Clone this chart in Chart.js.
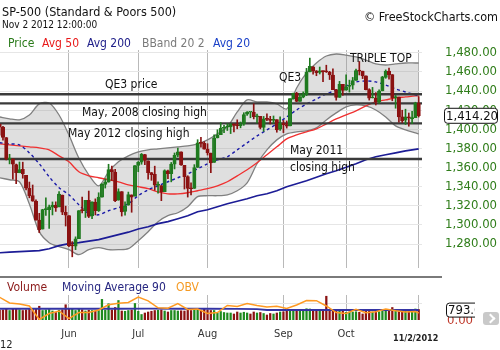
<!DOCTYPE html>
<html>
<head>
<meta charset="utf-8">
<script src="https://cdn.jsdelivr.net/npm/chart.js@4.4.1/dist/chart.umd.min.js"></script>
<style>
body{margin:0;width:500px;height:350px;background:#fff;overflow:hidden;position:relative;
  font-family:"DejaVu Sans Condensed","DejaVu Sans",sans-serif;font-stretch:condensed;color:#111;}
.t{position:absolute;white-space:nowrap;line-height:1;}
canvas{position:absolute;left:0;}
</style>
</head>
<body>
<canvas id="grafica" width="500" height="280" style="top:0"></canvas>
<canvas id="volumen" width="500" height="70" style="top:280px"></canvas>

<div class="t" style="left:2px;top:6px;font-size:12.5px;">SP-500 (Standard &amp; Poors 500)</div>
<div class="t" style="left:2px;top:20px;font-size:10px;">Nov 2 2012 12:00:00</div>
<div class="t" style="right:2px;top:11px;font-size:12.5px;">© FreeStockCharts.com</div>

<div class="t" style="left:8px;top:37px;font-size:12px;color:#2a7a1a;">Price</div>
<div class="t" style="left:42px;top:37px;font-size:12px;color:#e81818;">Avg 50</div>
<div class="t" style="left:87px;top:37px;font-size:12px;color:#20208a;">Avg 200</div>
<div class="t" style="left:142px;top:37px;font-size:12px;color:#7a7a7a;">BBand 20 2</div>
<div class="t" style="left:213px;top:37px;font-size:12px;color:#1a40c8;">Avg 20</div>

<div class="t" style="left:105px;top:78px;font-size:12px;">QE3 price</div>
<div class="t" style="left:82px;top:106px;font-size:12px;">May, 2008 closing high</div>
<div class="t" style="left:68px;top:127px;font-size:12px;">May 2012 closing high</div>
<div class="t" style="left:279px;top:71px;font-size:12px;">QE3</div>
<div class="t" style="left:350px;top:52px;font-size:12px;">TRIPLE TOP</div>
<div class="t" style="left:290px;top:144px;font-size:12px;">May 2011</div>
<div class="t" style="left:290px;top:161px;font-size:12px;">closing high</div>

<div style="position:absolute;left:0;top:276px;width:442px;height:2px;background:#7a7a7a;"></div>
<div class="t" style="left:7px;top:281px;font-size:12px;color:#8b1a1a;">Volume</div>
<div class="t" style="left:62px;top:281px;font-size:12px;color:#262680;">Moving Average 90</div>
<div class="t" style="left:176px;top:281px;font-size:12px;color:#f59a23;">OBV</div>
<div class="t" style="left:393px;top:334px;font-size:9px;font-weight:bold;color:#222;">11/2/2012</div>
<div class="t" style="left:0px;top:339px;font-size:11px;color:#222;">12</div>
<div style="position:absolute;left:483px;top:312px;width:16px;height:13px;background:#c9c9c9;border-radius:3px;">
  <div style="position:absolute;left:4px;top:3px;width:5px;height:5px;border-top:2.5px solid #fff;border-right:2.5px solid #fff;transform:rotate(45deg);"></div>
</div>

<script>
// fechas de sesion (mayo 1 - nov 2 2012)
var fechas = ['5/1','5/2','5/3','5/4','5/7','5/8','5/9','5/10','5/11','5/14','5/15','5/16','5/17','5/18','5/21','5/22','5/23','5/24','5/25','5/29','5/30','5/31',
  '6/1','6/4','6/5','6/6','6/7','6/8','6/11','6/12','6/13','6/14','6/15','6/18','6/19','6/20','6/21','6/22','6/25','6/26','6/27','6/28','6/29',
  '7/2','7/3','7/5','7/6','7/9','7/10','7/11','7/12','7/13','7/16','7/17','7/18','7/19','7/20','7/23','7/24','7/25','7/26','7/27','7/30','7/31',
  '8/1','8/2','8/3','8/6','8/7','8/8','8/9','8/10','8/13','8/14','8/15','8/16','8/17','8/20','8/21','8/22','8/23','8/24','8/27','8/28','8/29','8/30','8/31',
  '9/4','9/5','9/6','9/7','9/10','9/11','9/12','9/13','9/14','9/17','9/18','9/19','9/20','9/21','9/24','9/25','9/26','9/27','9/28',
  '10/1','10/2','10/3','10/4','10/5','10/8','10/9','10/10','10/11','10/12','10/15','10/16','10/17','10/18','10/19','10/22','10/23','10/24','10/25','10/26','10/31',
  '11/1','11/2'];

var apertura = [1397.9,1405.5,1402.3,1391.5,1368.8,1369.2,1363.2,1354.6,1358.1,1351.9,1338.4,1330.8,1324.8,1305.1,1295.7,1316.1,1316.0,1318.7,1320.8,1318.9,1331.3,1313.1,
  1309.9,1278.3,1277.8,1285.6,1316.1,1315.0,1325.7,1309.4,1324.0,1314.9,1329.2,1342.4,1344.8,1358.0,1355.4,1325.9,1334.9,1314.1,1320.7,1331.5,1330.1,
  1362.3,1365.8,1373.7,1367.1,1354.7,1353.0,1341.4,1341.3,1334.8,1356.5,1353.7,1363.6,1373.0,1376.5,1362.3,1350.5,1338.4,1338.2,1360.1,1385.9,1385.3,
  1379.3,1375.1,1365.5,1391.0,1394.5,1401.2,1402.3,1402.6,1405.9,1404.4,1403.9,1405.6,1415.8,1417.9,1418.1,1413.1,1413.5,1402.0,1411.1,1410.4,1409.3,1410.1,1400.1,
  1406.5,1404.9,1403.7,1432.1,1437.9,1429.1,1433.6,1436.6,1460.1,1465.4,1461.2,1459.5,1461.1,1460.3,1459.8,1456.9,1441.6,1433.4,1447.1,
  1440.9,1445.0,1446.1,1451.1,1461.4,1460.9,1455.9,1441.5,1432.8,1432.8,1428.8,1440.3,1454.2,1460.9,1457.3,1433.2,1433.7,1413.2,1409.7,1413.0,1411.0,
  1412.2,1427.6];
var maximo = [1415.3,1405.5,1403.1,1391.5,1373.9,1369.2,1363.7,1365.9,1365.7,1351.9,1344.9,1341.8,1326.4,1312.2,1316.4,1328.5,1320.7,1324.1,1324.2,1334.9,1331.3,1319.7,
  1309.9,1282.6,1287.6,1315.1,1329.1,1325.8,1335.5,1324.3,1327.3,1333.7,1343.3,1348.2,1363.5,1361.6,1358.3,1337.8,1334.9,1324.2,1334.4,1331.5,1362.2,
  1366.4,1374.8,1373.9,1367.1,1354.9,1361.5,1345.0,1341.3,1357.7,1357.3,1365.4,1375.3,1380.4,1376.5,1362.3,1351.5,1344.0,1363.1,1389.2,1391.7,1387.2,
  1385.0,1375.1,1394.2,1399.6,1407.1,1404.1,1405.9,1406.0,1405.9,1410.0,1407.7,1417.4,1418.7,1418.1,1426.7,1416.1,1413.5,1413.5,1416.2,1413.6,1414.0,1410.1,1413.1,
  1409.3,1408.8,1432.1,1437.9,1438.7,1437.8,1439.2,1463.8,1474.5,1465.6,1461.5,1465.2,1461.2,1467.1,1460.7,1463.2,1441.6,1450.2,1447.1,
  1457.1,1451.5,1454.3,1463.1,1471.0,1460.9,1455.9,1442.5,1443.9,1438.4,1441.3,1455.5,1462.2,1464.0,1457.3,1435.5,1433.7,1420.0,1421.1,1417.1,1418.8,
  1428.4,1434.3];
var minimo = [1395.7,1393.9,1388.7,1368.0,1363.9,1347.8,1343.1,1354.6,1348.9,1336.6,1328.4,1324.8,1304.9,1292.0,1295.7,1310.0,1296.5,1310.5,1314.2,1318.9,1310.8,1298.9,
  1277.3,1266.7,1274.2,1285.6,1312.7,1307.8,1307.7,1306.6,1310.5,1314.1,1329.2,1338.6,1344.8,1346.5,1324.4,1325.9,1309.3,1310.3,1320.7,1313.3,1330.1,
  1355.7,1363.5,1363.0,1348.0,1346.7,1336.3,1333.2,1325.4,1334.8,1348.5,1345.1,1358.6,1371.2,1362.2,1337.6,1329.2,1331.5,1338.2,1360.1,1381.4,1379.2,
  1373.1,1354.7,1365.5,1391.0,1394.5,1396.6,1398.8,1395.6,1397.3,1400.6,1401.6,1404.2,1414.7,1412.1,1410.9,1406.8,1400.5,1398.0,1409.1,1405.6,1406.6,1397.0,1399.0,
  1396.6,1401.3,1403.7,1431.5,1429.0,1429.1,1433.0,1435.3,1460.1,1457.6,1456.1,1457.9,1450.0,1459.5,1452.1,1441.6,1430.5,1433.4,1435.6,
  1440.9,1439.0,1442.0,1451.1,1456.9,1453.1,1441.2,1430.6,1432.8,1425.5,1427.2,1440.3,1453.4,1452.6,1429.9,1422.1,1407.6,1407.1,1405.1,1403.3,1406.0,
  1412.2,1412.9];
var cierre = [1405.8,1402.3,1391.6,1369.1,1369.6,1363.7,1354.6,1358.0,1353.4,1338.4,1330.7,1324.8,1304.9,1295.2,1316.0,1316.6,1318.9,1320.7,1317.8,1332.4,1313.3,1310.3,
  1278.0,1278.2,1285.5,1315.1,1315.0,1325.7,1308.9,1324.2,1314.9,1329.1,1342.8,1344.8,1358.0,1355.7,1325.5,1335.0,1313.7,1320.0,1331.9,1329.0,1362.2,
  1365.5,1374.0,1367.6,1354.7,1352.5,1341.5,1341.5,1334.8,1356.8,1353.6,1363.7,1372.8,1376.5,1362.7,1350.5,1338.3,1337.9,1360.0,1386.0,1385.3,1379.3,
  1375.3,1365.0,1391.0,1394.2,1401.4,1402.2,1402.8,1405.9,1404.1,1403.9,1405.5,1415.5,1418.2,1418.1,1413.2,1413.5,1402.1,1411.1,1410.4,1409.3,1410.5,1399.5,1406.6,
  1404.9,1403.4,1432.1,1437.9,1429.1,1433.6,1436.6,1460.0,1465.8,1461.2,1459.3,1461.1,1460.3,1460.2,1456.9,1441.6,1433.3,1447.2,1440.7,
  1444.5,1445.8,1451.0,1461.4,1460.9,1455.9,1441.5,1432.6,1432.8,1428.6,1440.1,1454.9,1460.9,1457.3,1433.2,1433.8,1413.1,1408.8,1413.0,1411.9,1412.2,
  1427.6,1414.2];
// volumen (millones)
var volumen = [820,780,800,880,760,860,880,820,760,800,840,860,900,1100,760,800,840,720,600,780,820,1220,
  900,860,760,880,820,720,780,760,720,760,1650,780,1300,800,1000,1560,720,700,760,800,1320,
  700,440,560,640,700,760,780,800,720,640,760,760,720,740,720,780,760,820,900,700,860,
  800,760,760,560,680,600,560,560,480,640,560,620,560,480,640,560,600,520,400,520,480,560,640,
  660,720,840,780,700,720,720,900,880,720,760,820,800,1900,720,780,760,720,820,
  620,640,640,660,620,480,720,700,640,720,660,760,740,720,1000,720,840,760,740,700,820,
  880,840];

// indicadores, cada 3 sesiones
var muestras = [1,4,7,10,13,16,19,22,25,28,31,34,37,40,43,46,49,52,55,58,61,64,67,70,73,76,79,82,85,88,91,94,97,100,103,106,109,112,115,118,121,124,127,128];
var bandaSup = [1413,1411,1410,1415,1426.6,1427.6,1415,1394,1370,1352.5,1341,1355.5,1366,1372.3,1376.5,1378.6,1379.6,1380.7,1381.7,1382.8,1384.8,1389,1395.3,1402.6,1418.2,1430.8,1428.7,1428.7,1426.6,1421.4,1443.3,1459,1469.4,1476.7,1478.8,1477.7,1475.7,1472.5,1468.4,1467.3,1468.4,1469.4,1469.4,1469.4];
var bandaInf = [1349.4,1347.3,1345.2,1322,1293,1281.5,1277.3,1274.2,1269,1274.2,1276.3,1274.2,1274.2,1275.2,1283.6,1293,1303.4,1309.7,1312.8,1319.1,1329.6,1330.6,1330.6,1331.6,1335.8,1344.1,1364,1378.6,1389,1395.3,1397.4,1398.4,1401.5,1409.9,1417.2,1423.5,1425.6,1424.5,1420.3,1413,1403.6,1399.5,1396.3,1395.3];
var prom20 = [1386,1384.8,1383.8,1375.4,1364,1350.4,1339,1331.6,1321.2,1311.8,1310.7,1314.9,1318,1322.2,1330.6,1336.8,1341,1345.2,1349.4,1353.5,1358.7,1364,1368.1,1371.3,1378.6,1385.9,1393.2,1399.5,1405.7,1413,1420.3,1426.6,1431.8,1437,1441.2,1445.4,1449.6,1450.6,1449.6,1446.4,1442.3,1439.1,1436,1435];
var prom50 = [1384.8,1383.8,1382.8,1381.7,1380.7,1378.6,1372.3,1366,1355.6,1351.4,1349.4,1347.3,1345.2,1342,1340,1337.9,1334.7,1332.6,1332.6,1333.7,1335.8,1337.9,1341,1345.2,1351.4,1357.7,1365,1373.4,1381.7,1390.1,1394.2,1397.4,1400.5,1405.7,1410.9,1415.1,1419.3,1424.5,1428.7,1430.8,1432.9,1433.9,1435,1435];
var prom200 = [1271,1271.6,1272.1,1272.6,1273.2,1275.2,1278.4,1280.5,1281.5,1283.1,1284.7,1287.3,1289.9,1292.5,1295.7,1298.2,1301.4,1303.5,1306.6,1309.7,1313.9,1316,1319.1,1322.2,1324.8,1327.4,1330.6,1332.6,1335.8,1340,1343.1,1346.2,1349.9,1353.5,1356.7,1360.3,1364,1368.1,1371.3,1373.4,1375.4,1377.5,1379.1,1379.6];
var obv = [6810,5100,4800,4200,150,1950,2700,390,2250,2250,3000,4560,5040,5250,6900,5760,3660,3540,4950,3150,3300,1950,2250,4350,4050,4950,4350,3900,4110,3450,4500,5850,5790,4200,2220,1950,3240,2160,2460,3300,2760,2400,2550,2100];
var muestrasVol = [1,10,19,28,37,46,55,64,73,79,82,91,100,109,118,128];
var promVol90 = [900,900,905,900,905,910,905,900,890,870,800,795,800,795,795,793];

// niveles dibujados a mano
var niveles = [1436.7, 1427.2, 1406.3, 1369];
var ticksPrecio = [1280,1300,1320,1340,1360,1380,1400,1420,1440,1460,1480];
var nombresMes = ['Jun','Jul','Aug','Sep','Oct'];

var fuente = '"DejaVu Sans Condensed","DejaVu Sans",sans-serif';
var verde = '#1f7a1f', rojo = '#8b1212';

// primer dia de cada mes + ultimo dia
var marcasX = [];
var mesAnt = '5';
fechas.forEach(function(f, i){
  var m = f.split('/')[0];
  if (m != mesAnt && m != '11') marcasX.push(i);
  mesAnt = m;
});
marcasX.push(fechas.length - 1);
var etiquetasX = nombresMes.concat(['']);

function serie(idx, vals){ return idx.map(function(v, i){ return {x: v, y: vals[i]}; }); }
function sube(i){ return cierre[i] >= apertura[i]; }

var velas = fechas.map(function(f, i){ return {x: i, y: [apertura[i], cierre[i]]}; });
var mechas = fechas.map(function(f, i){ return {x: i, y: [minimo[i], maximo[i]]}; });
var barrasVol = fechas.map(function(f, i){ return {x: i, y: volumen[i]}; });

function ejeX(etiquetas){
  return {
    type: 'linear', min: 1.1, max: 129, offset: false,
    afterBuildTicks: function(s){ s.ticks = marcasX.map(function(v){ return {value: v}; }); },
    afterFit: function(s){ s.height = etiquetas ? 20 : 0; },
    grid: { color: '#b9b9b9', drawTicks: etiquetas, tickLength: 8, tickColor: 'rgba(0,0,0,0)', offset: false },
    border: { display: false },
    ticks: { display: etiquetas, autoSkip: false, maxRotation: 0, padding: 0, color: '#333',
      font: { family: fuente, size: 11 },
      callback: function(v, i){ return etiquetasX[i]; } }
  };
}

// lineas de soporte: encima de la banda y promedios, debajo de las velas
var lineasSoporte = {
  id: 'lineasSoporte',
  beforeDatasetDraw: function(c, args){
    if (args.index != 5) return;
    var ctx = c.ctx, a = c.chartArea, y = c.scales.y;
    ctx.save();
    ctx.strokeStyle = '#3a3a3a';
    ctx.lineWidth = 2.3;
    niveles.forEach(function(n){
      var py = y.getPixelForValue(n);
      ctx.beginPath(); ctx.moveTo(a.left, py); ctx.lineTo(a.right, py); ctx.stroke();
    });
    ctx.restore();
  }
};

var cajaPrecio = {
  id: 'cajaPrecio',
  afterDraw: function(c){
    var ctx = c.ctx, ult = cierre[cierre.length - 1];
    var py = c.scales.y.getPixelForValue(ult);
    ctx.save();
    ctx.beginPath();
    ctx.roundRect(444.5, py - 7.5, 53, 15, 3);
    ctx.fillStyle = '#fff'; ctx.fill();
    ctx.strokeStyle = '#111'; ctx.lineWidth = 1; ctx.stroke();
    ctx.fillStyle = '#111';
    ctx.font = '13px ' + fuente;
    ctx.textBaseline = 'middle';
    ctx.fillText(ult.toLocaleString('en-US', {minimumFractionDigits: 2}), 446, py + 0.5);
    ctx.restore();
  }
};

var cajaVol = {
  id: 'cajaVol',
  afterDraw: function(c){
    var ctx = c.ctx, ult = promVol90[promVol90.length - 1];
    var py = c.scales.y.getPixelForValue(ult), p0 = c.scales.y.getPixelForValue(0);
    ctx.save();
    ctx.beginPath(); ctx.rect(0, 0, 475, c.height); ctx.clip();
    ctx.font = '13px ' + fuente;
    ctx.textBaseline = 'middle';
    ctx.fillStyle = '#c0392b';
    ctx.fillText('0.00', 447, p0 + 1);
    ctx.beginPath();
    ctx.roundRect(446.5, py - 7, 45, 14, 3);
    ctx.fillStyle = '#fff'; ctx.fill();
    ctx.strokeStyle = '#111'; ctx.lineWidth = 1; ctx.stroke();
    ctx.fillStyle = '#111';
    ctx.fillText(ult.toFixed(1), 448, py + 0.5);
    ctx.restore();
  }
};

var chart = new Chart(document.getElementById('grafica'), {
  type: 'bar',
  data: {
    datasets: [
      { type: 'line', data: serie(muestras, bandaSup), borderColor: '#808080', borderWidth: 1.3, pointRadius: 0,
        fill: '+1', backgroundColor: 'rgba(150,150,150,0.3)', order: 10, tension: 0.3 },
      { type: 'line', data: serie(muestras, bandaInf), borderColor: '#808080', borderWidth: 1.3, pointRadius: 0,
        fill: false, order: 9, tension: 0.3 },
      { type: 'line', data: serie(muestras, prom200), borderColor: '#1c1c96', borderWidth: 1.6, pointRadius: 0, order: 5 },
      { type: 'line', data: serie(muestras, prom50), borderColor: '#f03030', borderWidth: 1.3, pointRadius: 0, order: 4, tension: 0.3 },
      { type: 'line', data: serie(muestras, prom20), borderColor: '#1a1aa8', borderWidth: 1.4, borderDash: [3, 3], pointRadius: 0, order: 3, tension: 0.3 },
      { data: mechas, grouped: false, barThickness: 1, order: 2,
        backgroundColor: function(k){ return sube(k.dataIndex) ? verde : rojo; } },
      { data: velas, grouped: false, barThickness: 3.4, order: 1, minBarLength: 1, borderSkipped: false, borderWidth: 1,
        borderColor: function(k){ return sube(k.dataIndex) ? verde : rojo; },
        backgroundColor: function(k){ return sube(k.dataIndex) ? 'rgba(0,0,0,0)' : rojo; } }
    ]
  },
  options: {
    responsive: false, animation: false, devicePixelRatio: 1,
    layout: { padding: { top: 50, bottom: 12, left: 0, right: 0 } },
    plugins: { legend: { display: false }, tooltip: { enabled: false } },
    scales: {
      x: ejeX(false),
      y: { position: 'right', min: 1255, max: 1483,
        afterBuildTicks: function(s){ s.ticks = ticksPrecio.map(function(v){ return {value: v}; }); },
        afterFit: function(s){ s.width = 78; },
        grid: { color: '#e6e6e6', drawTicks: true, tickLength: 23, tickColor: 'rgba(0,0,0,0)' },
        border: { display: false },
        ticks: { padding: 0, color: '#2f7d1a', font: { family: fuente, size: 13 },
          callback: function(v){ return v.toLocaleString('en-US', {minimumFractionDigits: 2}); } } }
    }
  },
  plugins: [lineasSoporte, cajaPrecio]
});

var chartVol = new Chart(document.getElementById('volumen'), {
  type: 'bar',
  data: {
    datasets: [
      { type: 'line', data: serie(muestras, obv), yAxisID: 'obv', borderColor: '#ff9a22', borderWidth: 1.5, pointRadius: 0, order: 1 },
      { type: 'line', data: serie(muestrasVol, promVol90), borderColor: '#3434a4', borderWidth: 2, pointRadius: 0, order: 2 },
      { data: barrasVol, grouped: false, barThickness: 1.6, order: 3,
        backgroundColor: function(k){ var i = k.dataIndex; return (i == 0 || cierre[i] >= cierre[i - 1]) ? '#1e8a1e' : rojo; } }
    ]
  },
  options: {
    responsive: false, animation: false, devicePixelRatio: 1,
    layout: { padding: { top: 15, bottom: 10, left: 0, right: 0 } },
    plugins: { legend: { display: false }, tooltip: { enabled: false } },
    scales: {
      x: ejeX(true),
      y: { position: 'right', min: 0, max: 2000,
        afterBuildTicks: function(s){ s.ticks = [{value: 1300}]; },
        afterFit: function(s){ s.width = 78; },
        grid: { color: '#e6e6e6', drawTicks: false },
        border: { display: false },
        ticks: { display: false } },
      obv: { display: false, min: 0, max: 7500 }
    }
  },
  plugins: [cajaVol]
});
</script>
</body>
</html>
